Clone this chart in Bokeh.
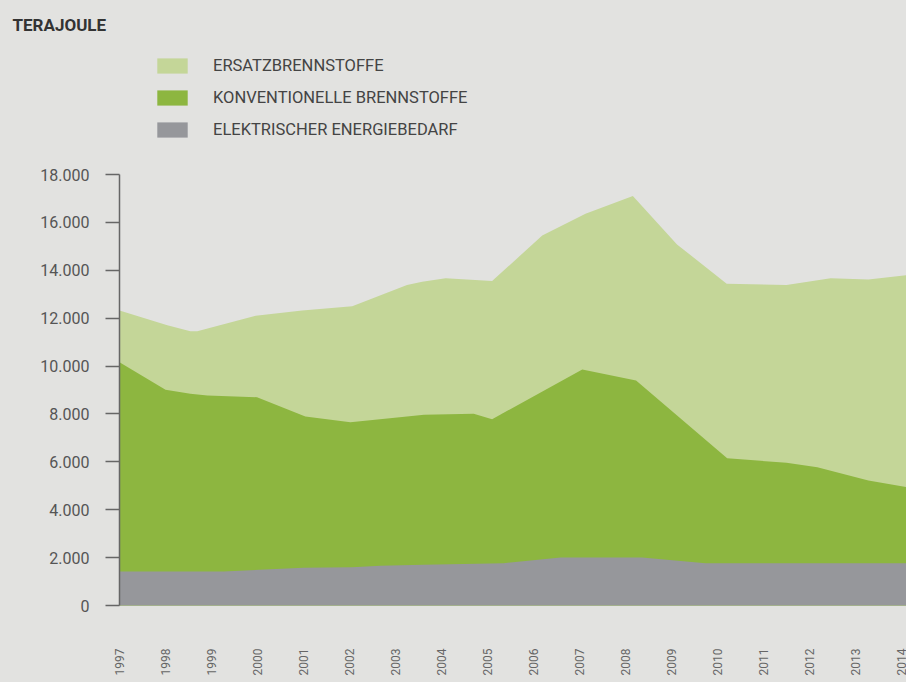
import numpy as np
from bokeh.plotting import figure
from bokeh.models import FixedTicker, Legend, LegendItem, Label, Range1d
from bokeh.embed import file_html
from bokeh.resources import INLINE

# ---------------- data (Terajoule) ----------------
series_names = ["ERSATZBRENNSTOFFE", "KONVENTIONELLE BRENNSTOFFE", "ELEKTRISCHER ENERGIEBEDARF"]

# upper edge of the stacked total (electric + conventional + substitute fuels)
total_years = [1997.0, 1998.04, 1998.54, 1998.69, 1999.96, 2000.97, 2002.06, 2003.25, 2003.58,
               2004.09, 2005.10, 2006.19, 2007.13, 2008.16, 2009.12, 2010.20, 2011.50, 2012.46,
               2013.28, 2014.15]
total_values = [12320, 11700, 11450, 11450, 12100, 12320, 12500, 13380, 13520,
                13670, 13550, 15450, 16360, 17100, 15080, 13440, 13380, 13670,
                13620, 13800]

# upper edge of electric + conventional fuels
konv_years = [1997.0, 1998.0, 1998.54, 1998.91, 1999.99, 2001.04, 2002.02, 2003.25, 2003.62,
              2004.70, 2005.10, 2007.06, 2008.23, 2010.21, 2011.50, 2012.17, 2013.28, 2014.15]
konv_values = [10160, 9010, 8840, 8770, 8700, 7895, 7657, 7895, 7966,
               8008, 7783, 9858, 9398, 6153, 5960, 5777, 5221, 4930]

# electric energy demand
elec_years = [1997.0, 1999.26, 2001.00, 2002.06, 2002.67, 2003.61, 2005.35, 2006.59, 2008.36,
              2009.74, 2014.15]
elec_values = [1420, 1420, 1574, 1600, 1657, 1700, 1768, 2005, 2005,
               1768, 1768]

tick_years = list(range(1997, 2015))
tick_year_labels = [str(y) for y in tick_years]
y_ticks = [0, 2000, 4000, 6000, 8000, 10000, 12000, 14000, 16000, 18000]
y_tick_labels = ["0", "2.000", "4.000", "6.000", "8.000", "10.000", "12.000", "14.000", "16.000", "18.000"]

# ---------------- styling / layout ----------------
BG = "#e2e2e0"
C_ERSATZ = "#c4d698"
C_KONV = "#8db640"
C_ELEC = "#96979b"
AXIS_C = "#666666"
TEXT_C = "#444444"
FONT = "Roboto"

W, H = 906, 682
PX_YEAR = 46.0              # px per year
X0 = 119.0                  # px of 1997 from frame left
PX_TJ = 431.0 / 18000.0     # px per TJ
Y0 = 605.0                  # px of 0 from frame top

x_start = 1997 - X0 / PX_YEAR
x_end = x_start + W / PX_YEAR
y_start = -(H - Y0) / PX_TJ
y_end = y_start + H / PX_TJ

def xd(px):
    return x_start + px / PX_YEAR

def yd(py):
    return y_end - py / PX_TJ

p = figure(width=W, height=H, x_range=Range1d(x_start, x_end), y_range=Range1d(y_start, y_end),
           output_backend="svg", toolbar_location=None, min_border=0,
           background_fill_color=BG, border_fill_color=BG, outline_line_color=None)
p.xgrid.visible = False
p.ygrid.visible = False

r_total = p.varea(x=total_years, y1=0, y2=total_values, fill_color=C_ERSATZ)
r_konv = p.varea(x=konv_years, y1=0, y2=konv_values, fill_color=C_KONV)
r_elec = p.varea(x=elec_years, y1=0, y2=elec_values, fill_color=C_ELEC)

# y axis
ya = p.yaxis[0]
ya.fixed_location = 1997
ya.ticker = FixedTicker(ticks=y_ticks)
ya.major_label_overrides = {t: l for t, l in zip(y_ticks, y_tick_labels)}
ya.bounds = (0, 18000)
ya.axis_line_color = AXIS_C
ya.axis_line_width = 1.5
ya.major_tick_line_color = AXIS_C
ya.major_tick_line_width = 1.5
ya.major_tick_out = 14
ya.major_tick_in = 0
ya.minor_tick_line_color = None
ya.major_label_standoff = 16
ya.major_label_text_font = FONT
ya.major_label_text_font_size = "16px"
ya.major_label_text_color = "#555555"

# x axis
xa = p.xaxis[0]
xa.fixed_location = 0
xa.ticker = FixedTicker(ticks=tick_years)
xa.major_label_overrides = {t: l for t, l in zip(tick_years, tick_year_labels)}
xa.axis_line_color = None
xa.major_tick_line_color = None
xa.minor_tick_line_color = None
xa.major_tick_out = 0
xa.major_tick_in = 0
xa.major_label_orientation = np.pi / 2
xa.major_label_standoff = 43
xa.major_label_text_font = FONT
xa.major_label_text_font_size = "12px"
xa.major_label_text_color = "#666666"

legend = Legend(items=[LegendItem(label=series_names[0], renderers=[r_total]),
                       LegendItem(label=series_names[1], renderers=[r_konv]),
                       LegendItem(label=series_names[2], renderers=[r_elec])],
                location=(153, 543), orientation="vertical",
                glyph_width=38, glyph_height=19, label_height=19, spacing=13,
                padding=0, margin=0, label_standoff=22,
                border_line_color=None, background_fill_alpha=0,
                label_text_font=FONT, label_text_font_size="16.5px",
                label_text_color=TEXT_C)
p.add_layout(legend)

title = Label(x=xd(12), y=yd(24), text="TERAJOULE", text_baseline="alphabetic",
              text_font=FONT, text_font_size="17px", text_font_style="bold",
              text_color="#333333")
p.add_layout(title)

html = file_html(p, INLINE)
html = html.replace("<body>", '<body style="background:%s;">' % BG)
open("out.html", "w").write(html)
